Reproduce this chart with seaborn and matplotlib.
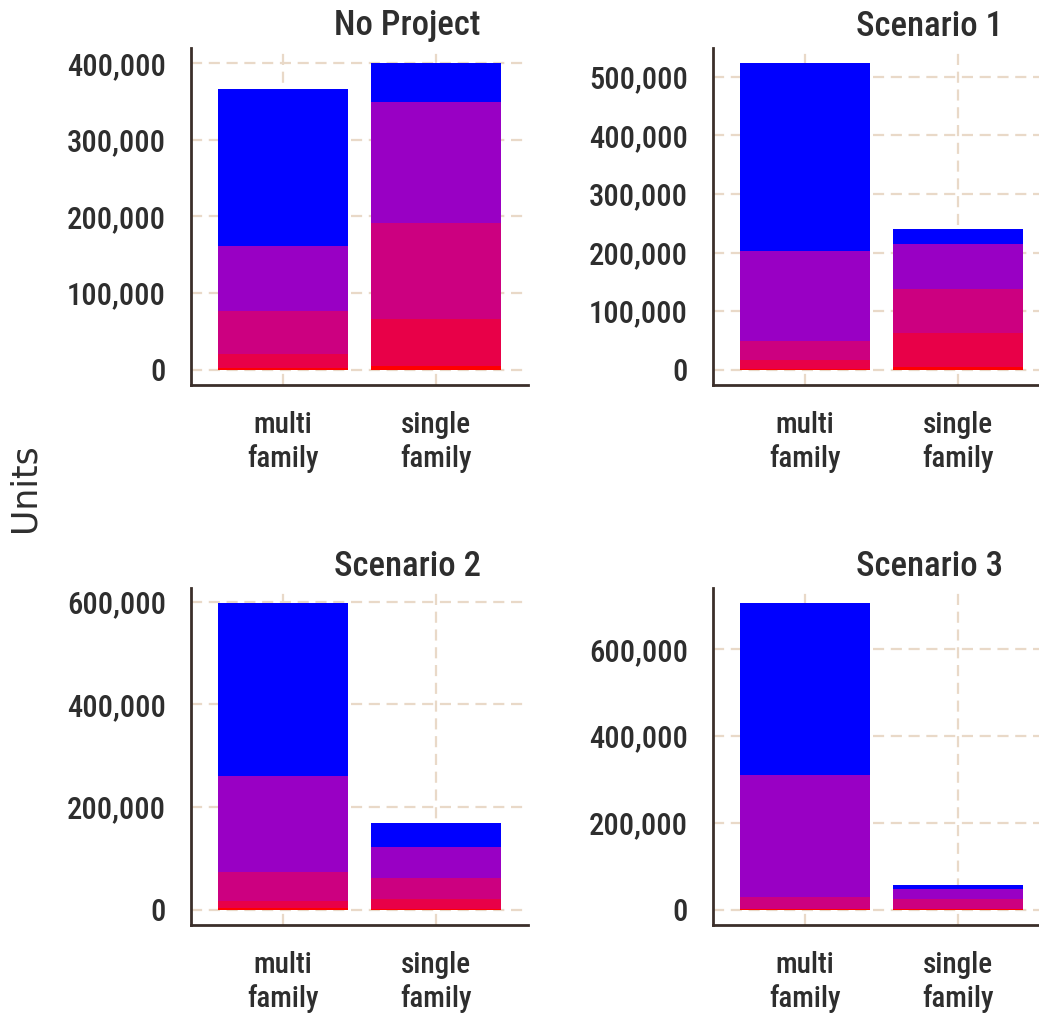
import numpy as np
import pandas as pd
import matplotlib
matplotlib.use("Agg")
import matplotlib.pyplot as plt
import seaborn as sns
from matplotlib.ticker import FuncFormatter, MultipleLocator

# ---------------- data ----------------
scenarios = ["No Project", "Scenario 1", "Scenario 2", "Scenario 3"]
housing_types = ["multi family", "single family"]
tick_labels = ["multi\nfamily", "single\nfamily"]
tiers = ["tier 1", "tier 2", "tier 3", "tier 4", "tier 5"]          # bottom -> top
tier_colors = ["#FF0000", "#E80048", "#CC0080", "#9900C4", "#0000FF"]

# units per tier (bottom -> top)
no_project_multi = [2000, 19000, 56000, 84000, 205000]
no_project_single = [5000, 61000, 125000, 158000, 51000]
scenario1_multi = [2000, 15000, 32000, 154000, 320000]
scenario1_single = [5000, 58000, 74000, 77000, 26000]
scenario2_multi = [3000, 13000, 58000, 187000, 336000]
scenario2_single = [2000, 18000, 41000, 62000, 46000]
scenario3_multi = [1000, 1000, 27000, 281000, 396000]
scenario3_single = [1000, 1000, 22000, 24000, 8000]

tick_steps = [100000, 100000, 200000, 200000]

series = {
    ("No Project", "multi family"): no_project_multi,
    ("No Project", "single family"): no_project_single,
    ("Scenario 1", "multi family"): scenario1_multi,
    ("Scenario 1", "single family"): scenario1_single,
    ("Scenario 2", "multi family"): scenario2_multi,
    ("Scenario 2", "single family"): scenario2_single,
    ("Scenario 3", "multi family"): scenario3_multi,
    ("Scenario 3", "single family"): scenario3_single,
}

rows = []
for (sc, ht), vals in series.items():
    cum = np.cumsum(vals)
    for t, v, c in zip(tiers, vals, cum):
        rows.append(dict(scenario=sc, type=ht, tier=t, units=v, cum=c))
df = pd.DataFrame(rows)

# ---------------- style ----------------
sns.set_theme(style="white")
plt.rcParams["font.family"] = ["Roboto Condensed", "Liberation Sans", "DejaVu Sans"]
FW = 500

W, H = 1039, 1013
fig = plt.figure(figsize=(W / 100, H / 100), dpi=100)

# axes boxes in pixels: (left, top, right, bottom)
boxes = [(191, 48, 528, 385), (713, 48, 1050, 385),
         (191, 588, 528, 925), (713, 588, 1050, 925)]

text_col = "#2E2E2E"
grid_col = "#E9D9C8"
spine_col = "#3B2F2A"

for sc, box, step in zip(scenarios, boxes, tick_steps):
    l, t, r, b = box
    ax = fig.add_axes([l / W, 1 - b / H, (r - l) / W, (b - t) / H])
    sub = df[df["scenario"] == sc]
    for tier, col in reversed(list(zip(tiers, tier_colors))):
        d = sub[sub["tier"] == tier]
        sns.barplot(data=d, x="type", y="cum", order=housing_types, color=col,
                    saturation=1, width=0.85, errorbar=None, linewidth=0, ax=ax)
    ymax = sub.groupby("type")["cum"].max().max()
    ax.set_ylim(-0.05 * ymax, 1.05 * ymax)
    ax.set_xlim(-0.6, 1.6)
    ax.yaxis.set_major_locator(MultipleLocator(step))
    ax.yaxis.set_major_formatter(FuncFormatter(lambda v, p: f"{v:,.0f}"))
    ax.set_xticks(range(len(housing_types)))
    ax.set_xticklabels(tick_labels, linespacing=1.2)
    for lab in ax.get_xticklabels() + ax.get_yticklabels():
        lab.set_fontweight(FW)
    ax.set_xlabel("")
    ax.set_ylabel("")
    ax.grid(True, axis="both", color=grid_col, linestyle=(0, (5, 3)), linewidth=1.6)
    ax.set_axisbelow(True)
    for s in ["top", "right"]:
        ax.spines[s].set_visible(False)
    for s in ["left", "bottom"]:
        ax.spines[s].set_color(spine_col)
        ax.spines[s].set_linewidth(2)
    ax.tick_params(axis="y", length=0, pad=18, labelsize=22, labelcolor=text_col)
    ax.tick_params(axis="x", length=0, pad=19, labelsize=21, labelcolor=text_col)
    ax.set_title(sc, x=0.425, ha="left", pad=9, fontsize=25, color=text_col,
                 fontweight=FW)

fig.text(25 / W, 1 - 488 / H, "Units", rotation=90, ha="center", va="center",
         fontsize=25, color="#2E2E2E", family="DejaVu Sans")

fig.savefig("out.png", dpi=100)
